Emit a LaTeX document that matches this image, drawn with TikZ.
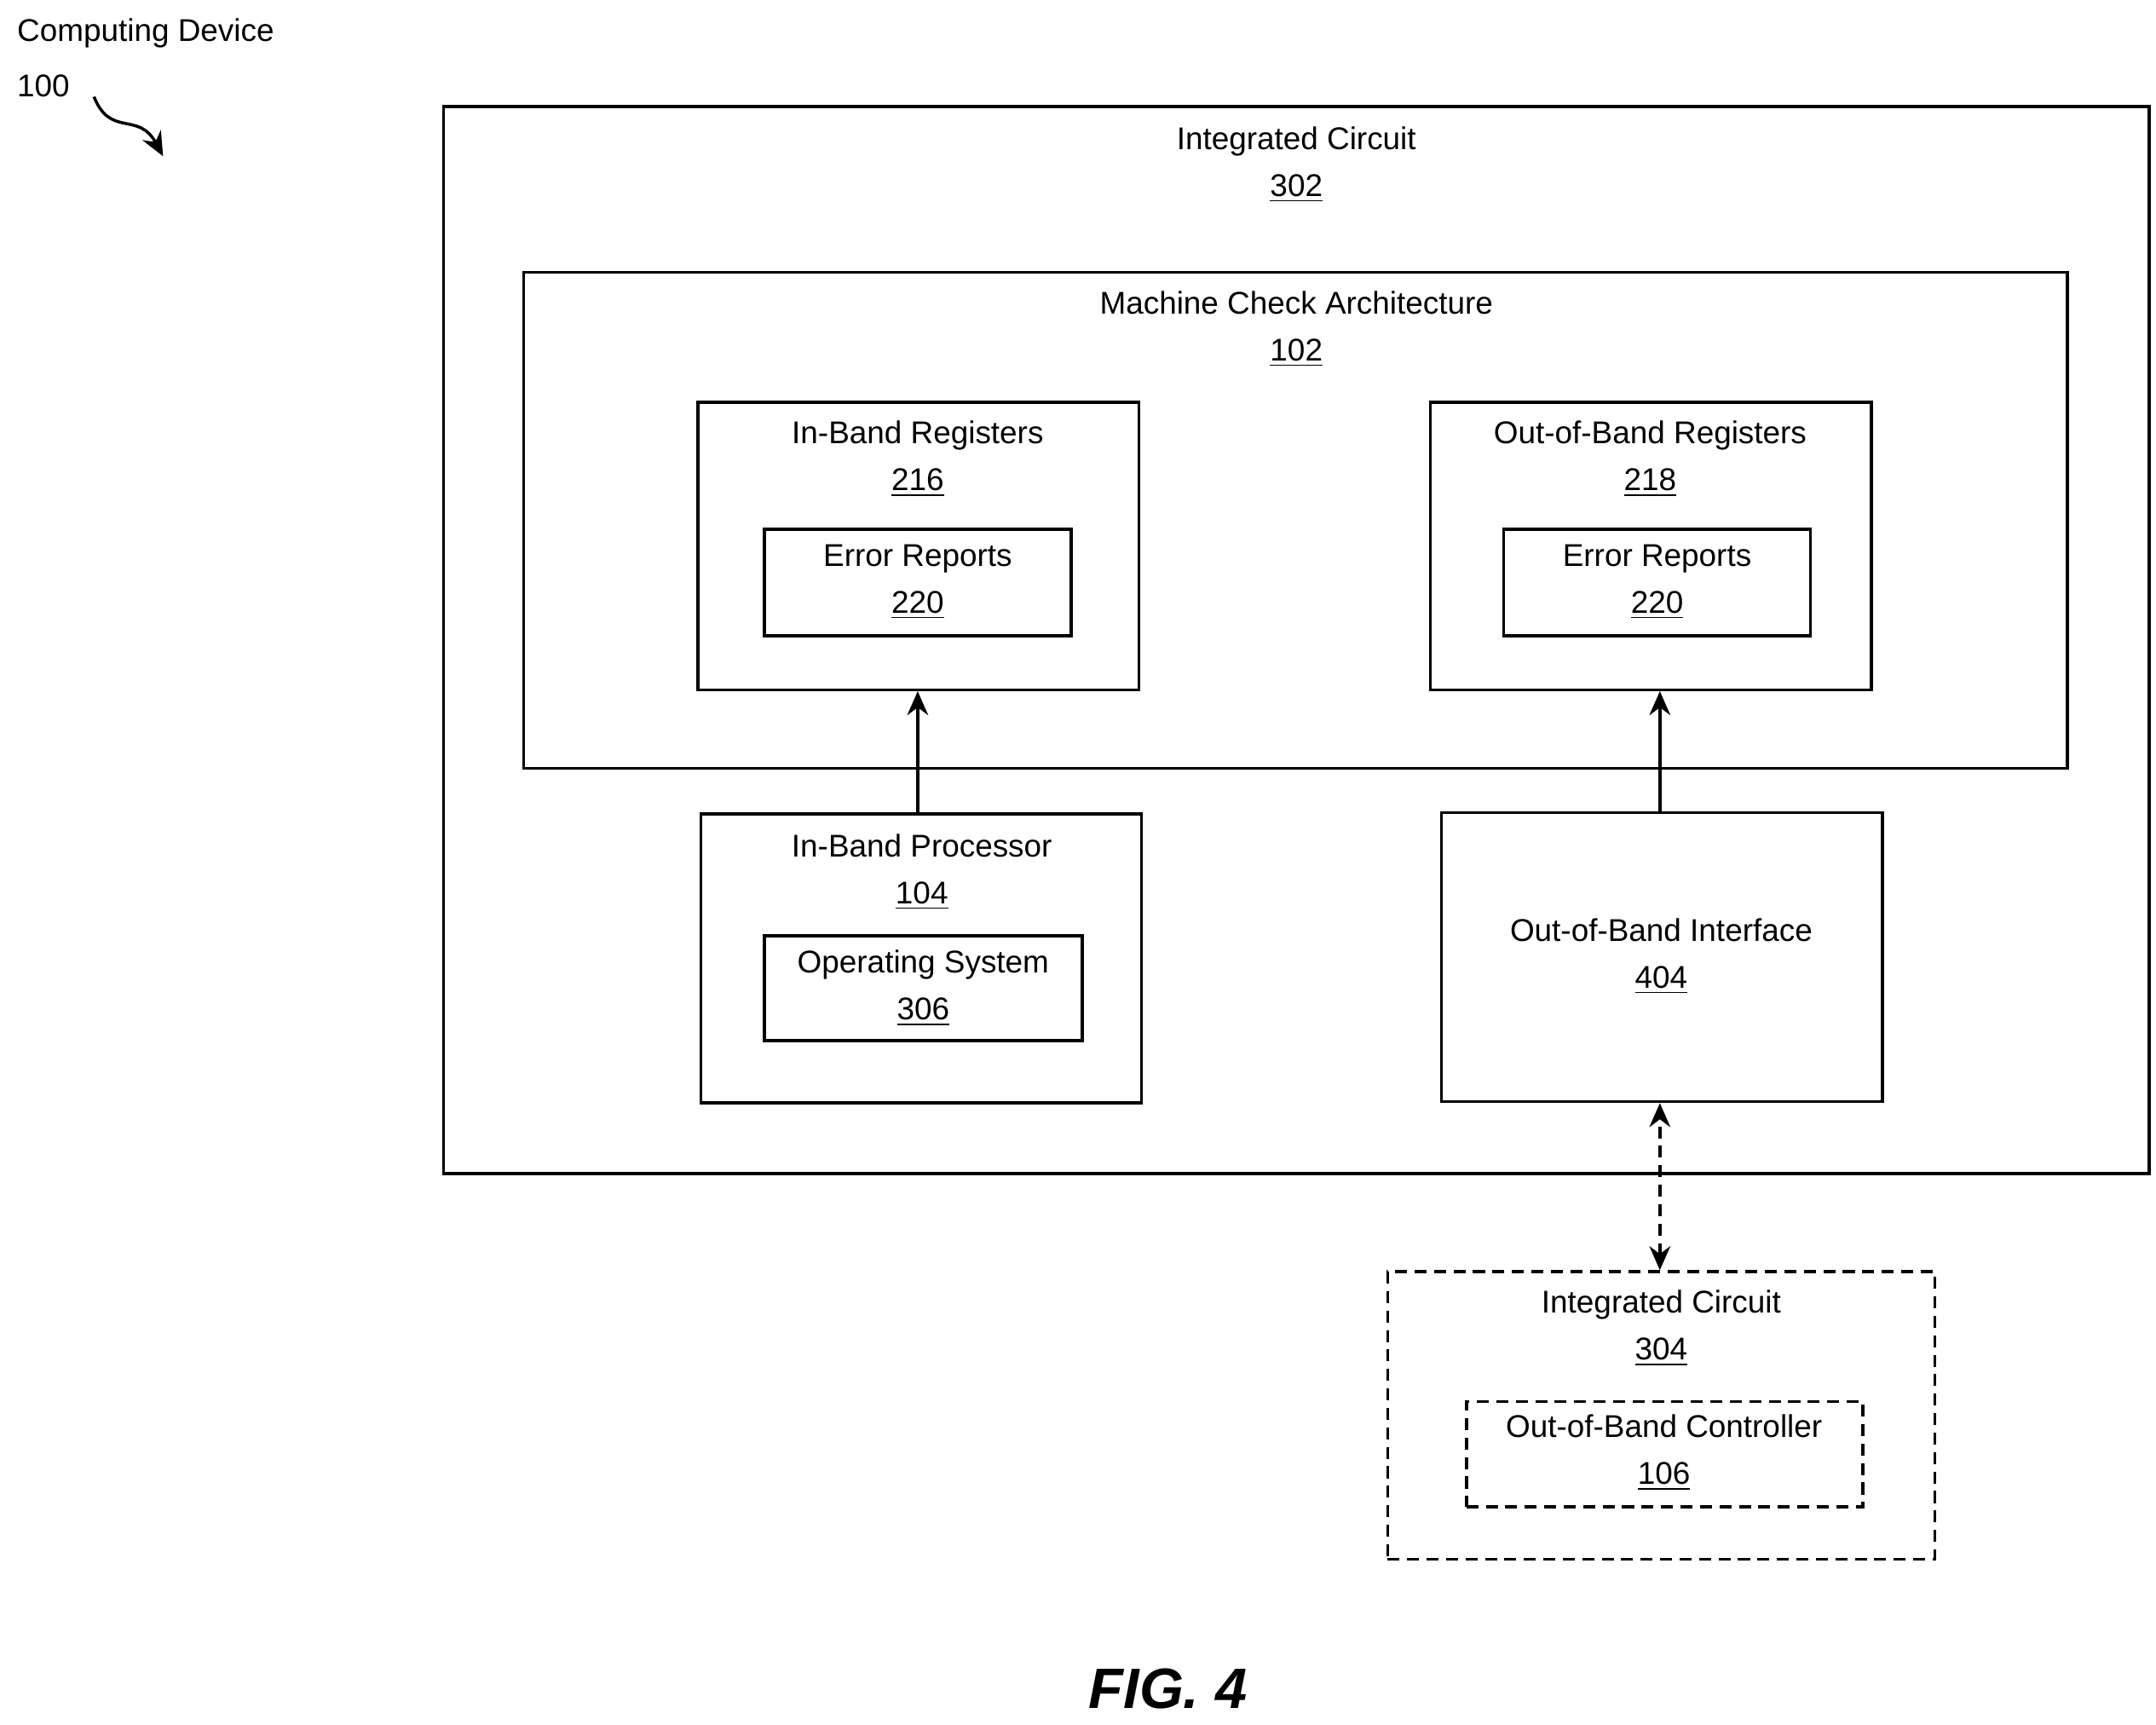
\documentclass[tikz,border=0pt]{standalone}
\usepackage{fontspec}
\setmainfont{Liberation Sans}
\usetikzlibrary{arrows.meta, fit}

\tikzset{
    box/.style={draw, line width=1pt, inner sep=0pt},
    dbox/.style={box, dash pattern=on 4pt off 2.5pt},
    txt/.style={font=\fontsize{10.5}{12.6}\selectfont, align=center, inner sep=0pt},
    arr/.style={line width=1pt, -{Stealth[length=8pt, width=7pt]}}
}
\newcommand{\lbl}[2]{#1\\[3pt]\underline{#2}}

\begin{document}
\begin{tikzpicture}[x=0.01622cm, y=-0.01622cm]
    \useasboundingbox (0,0) rectangle (1560,1248);

    % computing device
    \node[txt, anchor=west] (cdev) at (12,24) {Computing Device};
    \node[txt, anchor=west] (cnum) at (12,62) {100};
    \coordinate (sqs) at (68,70);
    \coordinate (sqe) at (118,113);
    \draw[arr] (sqs) .. controls (80,100) and (100,80) .. (sqe);

    % integrated circuit 302
    \node[box, fit={(321,77) (1555,849)}] (ic302) {};
    \node[txt] at (938,119) {\lbl{Integrated Circuit}{302}};

    % machine check architecture
    \node[box, fit={(379,197) (1496,556)}] (mca) {};
    \node[txt] at (938,238) {\lbl{Machine Check Architecture}{102}};

    % registers
    \node[box, fit={(505,291) (824,499)}] (ibreg) {};
    \node[txt] at (664,332) {\lbl{In-Band Registers}{216}};
    \node[box, fit={(553,383) (775,460)}] (iberr) {};
    \node[txt] at (664,421) {\lbl{Error Reports}{220}};

    \node[box, fit={(1035,291) (1354,499)}] (obreg) {};
    \node[txt] at (1194,332) {\lbl{Out-of-Band Registers}{218}};
    \node[box, fit={(1088,383) (1310,460)}] (oberr) {};
    \node[txt] at (1199,421) {\lbl{Error Reports}{220}};

    % processor and interface
    \node[box, fit={(507,589) (826,798)}] (ibproc) {};
    \node[txt] at (667,631) {\lbl{In-Band Processor}{104}};
    \node[box, fit={(553,677) (783,753)}] (os) {};
    \node[txt] at (668,715) {\lbl{Operating System}{306}};

    \node[box, fit={(1043,588) (1362,797)}] (obif) {};
    \node[txt] at (1202,692) {\lbl{Out-of-Band Interface}{404}};

    % integrated circuit 304
    \node[dbox, fit={(1004,920) (1400,1128)}] (ic304) {};
    \node[txt] at (1202,961) {\lbl{Integrated Circuit}{304}};
    \node[dbox, fit={(1061,1014) (1348,1090)}] (obctl) {};
    \node[txt] at (1204,1051) {\lbl{Out-of-Band Controller}{106}};

    % connectors
    \draw[arr] (ibproc.north -| 664,0) -- (ibreg.south -| 664,0);
    \draw[arr] (obif.north -| 1201,0) -- (obreg.south -| 1201,0);
    \draw[arr, {Stealth[length=8pt, width=7pt]}-{Stealth[length=8pt, width=7pt]}, dash pattern=on 4pt off 2.5pt]
        (ic304.north -| 1201,0) -- (obif.south -| 1201,0);

    \node[font=\fontsize{19}{22}\selectfont\bfseries\itshape] (fig) at (845,1222) {FIG. 4};
\end{tikzpicture}
\end{document}
